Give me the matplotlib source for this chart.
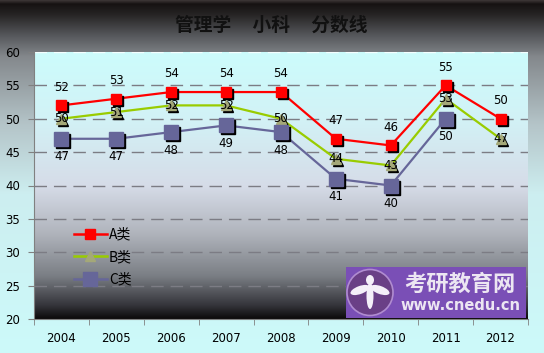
import numpy as np
import matplotlib
matplotlib.use("Agg")
import matplotlib.pyplot as plt
import matplotlib.transforms as mtransforms
from matplotlib.patches import Ellipse
from matplotlib.lines import Line2D
from matplotlib.colors import to_rgb

plt.rcParams['font.family'] = ['Noto Sans CJK SC', 'DejaVu Sans']

years = ['2004', '2005', '2006', '2007', '2008', '2009', '2010', '2011', '2012']
a_vals = [52, 53, 54, 54, 54, 47, 46, 55, 50]
b_vals = [50, 51, 52, 52, 50, 44, 43, 53, 47]
c_vals = [47, 47, 48, 49, 48, 41, 40, 50, np.nan]
series_names = ['A类', 'B类', 'C类']
title = '管理学     小科     分数线'
y_ticks = [20, 25, 30, 35, 40, 45, 50, 55, 60]

W, H = 544, 353
fig = plt.figure(figsize=(W / 100, H / 100), dpi=100)


def gradient(stops, n=400):
    pos = np.array([s[0] for s in stops])
    cols = np.array([to_rgb(s[1]) for s in stops])
    t = np.linspace(0, 1, n)
    img = np.stack([np.interp(t, pos, cols[:, k]) for k in range(3)], axis=-1)
    return img[:, None, :]


# figure background gradient (top -> bottom)
bg = fig.add_axes([0, 0, 1, 1], zorder=-10)
bg.imshow(gradient([(0.0, '#3a3434'), (0.01, '#161212'), (0.04, '#262424'),
                    (0.10, '#56585c'), (0.16, '#84888c'), (0.35, '#b4c4c8'),
                    (0.55, '#cdeef0'), (1.0, '#ccfafa')]),
          aspect='auto', extent=[0, 1, 0, 1], origin='upper')
bg.set_xlim(0, 1); bg.set_ylim(0, 1)
bg.axis('off')

ax = fig.add_axes([34 / W, 1 - 319 / H, 494 / W, 267 / H])
ax.set_xlim(-0.5, 8.5)
ax.set_ylim(20, 60)
ax.imshow(gradient([(0.0, '#ccfcfc'), (0.25, '#d2f2f6'), (0.5, '#d6dce8'),
                    (0.68, '#b0b4bc'), (0.84, '#7a7e84'), (0.95, '#34343a'),
                    (1.0, '#0c0a0a')]),
          aspect='auto', extent=[-0.5, 8.5, 20, 60], origin='upper', zorder=0)

for y in y_ticks[1:-1]:
    ax.axhline(y, color='#7c7c84', lw=1.0, dashes=(9, 5), zorder=1)
ax.axhline(60, color='#f4ffff', lw=1.0, dashes=(9, 5), zorder=1)

x = np.arange(len(years))
styles = [
    dict(vals=a_vals, color='#ff0000', mfc='#ff0000', marker='s', ms=7, label_off=13),
    dict(vals=b_vals, color='#99cc00', mfc='#a4a878', marker='^', ms=7, label_off=0),
    dict(vals=c_vals, color='#666699', mfc='#666699', marker='s', ms=9.5, label_off=-13),
]

shadow = mtransforms.offset_copy(ax.transData, fig=fig, x=2, y=-2, units='dots')
for name, st in zip(series_names, styles):
    vals = np.array(st['vals'], dtype=float)
    ax.plot(x, vals, color=st['color'], lw=1.6, zorder=3)
    ax.plot(x, vals, ls='none', marker=st['marker'], ms=st['ms'], mfc='#000000',
            mec='#000000', transform=shadow, zorder=4)
    ax.plot(x, vals, ls='none', marker=st['marker'], ms=st['ms'],
            mfc=st['mfc'], mec=st['mfc'], zorder=5)
    for xi, v in zip(x, vals):
        if np.isnan(v):
            continue
        ax.annotate(f'{int(v)}', (xi, v), xytext=(0, st['label_off']),
                    textcoords='offset points', ha='center', va='center',
                    fontsize=8.5, color='#000000', zorder=6,
                    family='DejaVu Sans')

leg_handles = [Line2D([], [], color=s['color'], lw=1.8, marker=s['marker'],
                      ms=s['ms'], mfc=s['mfc'], mec=s['mfc']) for s in styles]
leg = ax.legend(leg_handles, series_names, loc='upper left',
                bbox_to_anchor=(0.055, 0.39), frameon=False, fontsize=10,
                handlelength=2.4, handletextpad=0.15, labelspacing=0.62)

ax.set_xticks(x)
ax.set_xticklabels(years, fontsize=8.5, family='DejaVu Sans')
ax.set_xticks(np.arange(-0.5, 9.0, 1.0), minor=True)
ax.tick_params(axis='x', which='major', length=0, pad=9)
ax.tick_params(axis='x', which='minor', length=4, direction='out', color='#808080')
ax.set_yticks(y_ticks)
ax.set_yticklabels([str(v) for v in y_ticks], fontsize=8.5, family='DejaVu Sans')
ax.tick_params(axis='y', length=4, direction='out', color='#808080', pad=6)
for sname in ['top', 'right']:
    ax.spines[sname].set_visible(False)
for sname in ['left', 'bottom']:
    ax.spines[sname].set_color('#808080')

fig.text(271 / W, 1 - 25 / H, title, ha='center', va='center',
         fontsize=13.5, fontweight='bold', color='#111111')

# watermark logo
lg = fig.add_axes([346 / W, 1 - 318 / H, 180 / W, 51 / H], zorder=20)
lg.set_facecolor('#7a4fb6')
lg.set_xlim(0, 180); lg.set_ylim(0, 51)
lg.set_xticks([]); lg.set_yticks([])
for s in lg.spines.values():
    s.set_visible(False)
lg.add_patch(Ellipse((24, 25.5), 46, 46, facecolor='#6a3f86', edgecolor='#b08cd0', lw=1.2))
lg.add_patch(Ellipse((24, 22), 7, 26, facecolor='#f4eef8', edgecolor='none'))
lg.add_patch(Ellipse((14, 28), 20, 8, angle=20, facecolor='#f4eef8', edgecolor='none'))
lg.add_patch(Ellipse((34, 28), 20, 8, angle=-20, facecolor='#f4eef8', edgecolor='none'))
lg.add_patch(Ellipse((24, 38), 8, 10, facecolor='#f4eef8', edgecolor='none'))
lg.text(114, 34, '考研教育网', ha='center', va='center', fontsize=16,
        fontweight='bold', color='#ece6f2')
lg.text(114, 12, 'www.cnedu.cn', ha='center', va='center', fontsize=10.5,
        fontweight='bold', color='#ece6f2', family='DejaVu Sans')

fig.savefig('out.png', dpi=100)
